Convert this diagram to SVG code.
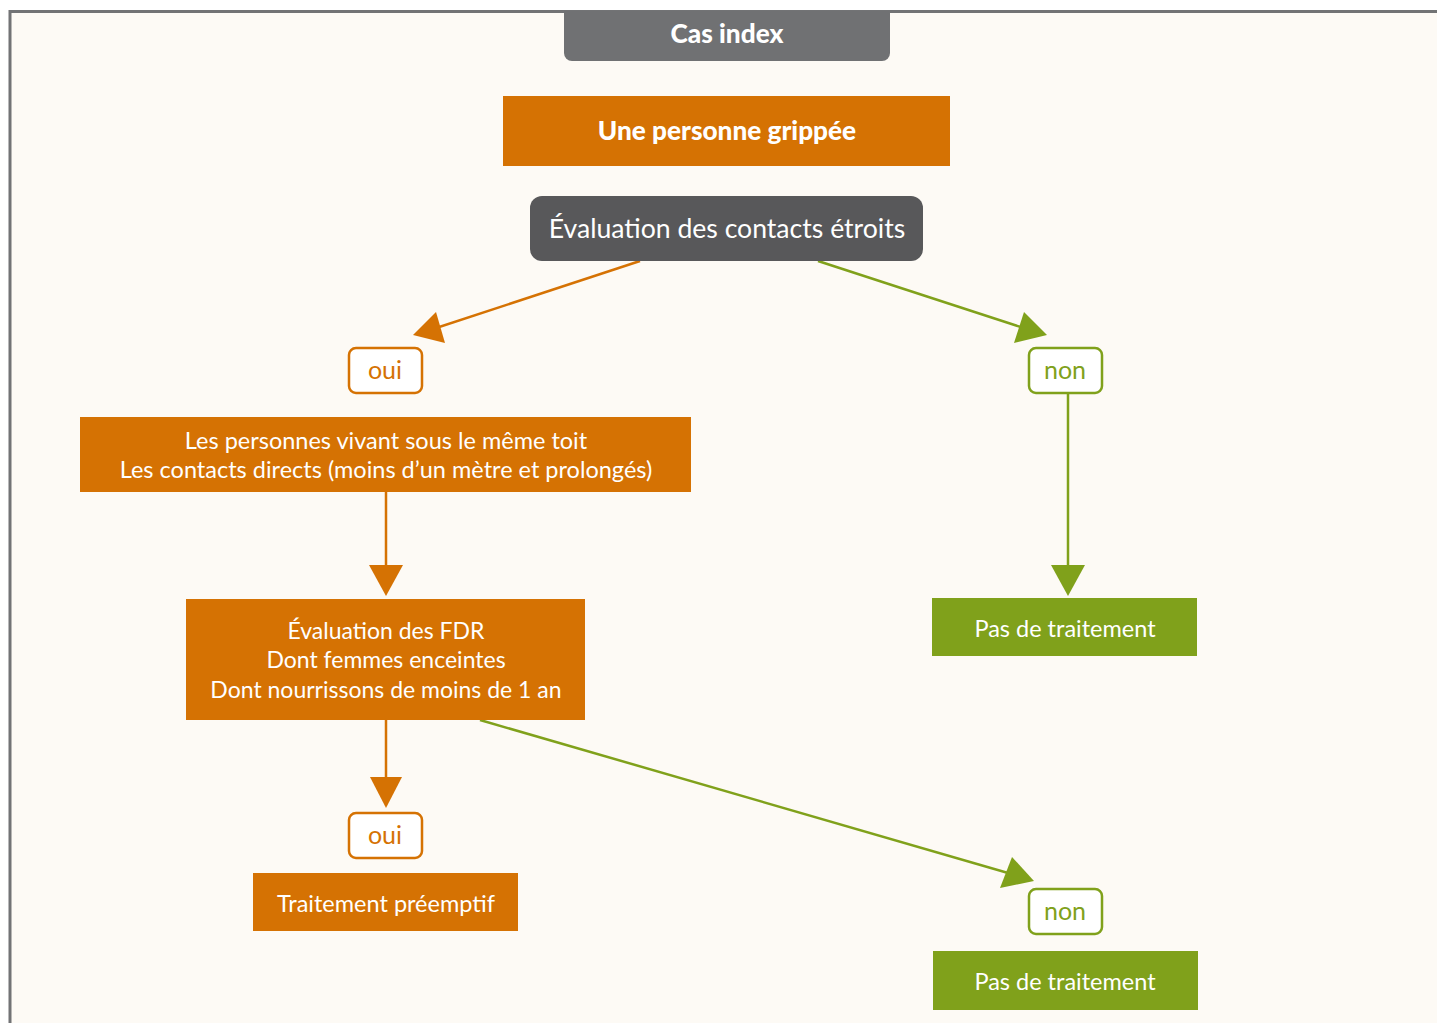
<svg xmlns="http://www.w3.org/2000/svg" width="1437" height="1023" viewBox="0 0 1437 1023">
<style>
text{font-family:Lato,"Open Sans",sans-serif;text-anchor:middle}
.w{fill:#ffffff}
.b{font-weight:900}
.o{fill:#D57203}
.g{fill:#80A11B}
.lo{stroke:#D57203;stroke-width:2.5;fill:none}
.lg{stroke:#80A11B;stroke-width:2.5;fill:none}
.tag-o{fill:#ffffff;stroke:#D57203;stroke-width:2.5}
.tag-g{fill:#ffffff;stroke:#80A11B;stroke-width:2.5}
.t22{font-size:23.5px}
.t23{font-size:23px}
.t24{font-size:25px}
.tb{font-size:26.2px}
</style>
<rect x="0" y="0" width="1437" height="1023" fill="#ffffff"/>
<rect x="10" y="11.5" width="1440" height="1020" fill="#FDFAF5" stroke="#727375" stroke-width="3"/>

<g id="connectors">
<line class="lo" x1="640" y1="261" x2="430" y2="330"/>
<polygon class="o" points="413,335 436,312 445,343"/>
<line class="lg" x1="818" y1="261" x2="1030" y2="330"/>
<polygon class="g" points="1047,335 1024,312 1014,343"/>
<line class="lg" x1="1068" y1="393" x2="1068" y2="570"/>
<polygon class="g" points="1068,596 1051,565 1085,565"/>
<line class="lo" x1="386" y1="492" x2="386" y2="570"/>
<polygon class="o" points="386,596 369,565 403,565"/>
<line class="lo" x1="386" y1="720" x2="386" y2="782"/>
<polygon class="o" points="386,808 370,777 402,777"/>
<line class="lg" x1="480" y1="720" x2="1015" y2="875"/>
<polygon class="g" points="1034,881 1012,857 1000,888"/>
</g>

<g id="cas-index">
<path d="M564,11 H890 V53 A8,8 0 0 1 882,61 H572 A8,8 0 0 1 564,53 Z" fill="#707173"/>
<text class="w b tb" x="727" y="43">Cas index</text>
</g>
<g id="personne-grippee">
<rect x="503" y="96" width="447" height="70" class="o"/>
<text class="w b tb" x="727" y="140">Une personne grippée</text>
</g>
<g id="evaluation-contacts">
<rect x="530" y="196" width="393" height="65" rx="12" fill="#58585A"/>
<text class="w" x="727" y="238" font-size="26.6">Évaluation des contacts étroits</text>
</g>
<g id="oui-1">
<rect x="349" y="348" width="73" height="45" rx="7" class="tag-o"/>
<text class="o t24" x="385" y="379">oui</text>
</g>
<g id="non-1">
<rect x="1029" y="348" width="73" height="45" rx="7" class="tag-g"/>
<text class="g t24" x="1065" y="379">non</text>
</g>
<g id="contacts">
<rect x="80" y="417" width="611" height="75" class="o"/>
<text class="w t22" x="386" y="449">Les personnes vivant sous le même toit</text>
<text class="w t22" x="386" y="478">Les contacts directs (moins d’un mètre et prolongés)</text>
</g>
<g id="pas-traitement-1">
<rect x="932" y="598" width="265" height="58" class="g"/>
<text class="w t22" x="1065" y="637">Pas de traitement</text>
</g>
<g id="evaluation-fdr">
<rect x="186" y="599" width="399" height="121" class="o"/>
<text class="w t23" x="386" y="639">Évaluation des FDR</text>
<text class="w t23" x="386" y="668">Dont femmes enceintes</text>
<text class="w t23" x="386" y="698">Dont nourrissons de moins de 1 an</text>
</g>
<g id="oui-2">
<rect x="349" y="813" width="73" height="45" rx="7" class="tag-o"/>
<text class="o t24" x="385" y="844">oui</text>
</g>
<g id="traitement-preemptif">
<rect x="253" y="873" width="265" height="58" class="o"/>
<text class="w t22" x="386" y="912">Traitement préemptif</text>
</g>
<g id="non-2">
<rect x="1029" y="889" width="73" height="45" rx="7" class="tag-g"/>
<text class="g t24" x="1065" y="920">non</text>
</g>
<g id="pas-traitement-2">
<rect x="933" y="951" width="265" height="59" class="g"/>
<text class="w t22" x="1065" y="990">Pas de traitement</text>
</g>
</svg>
